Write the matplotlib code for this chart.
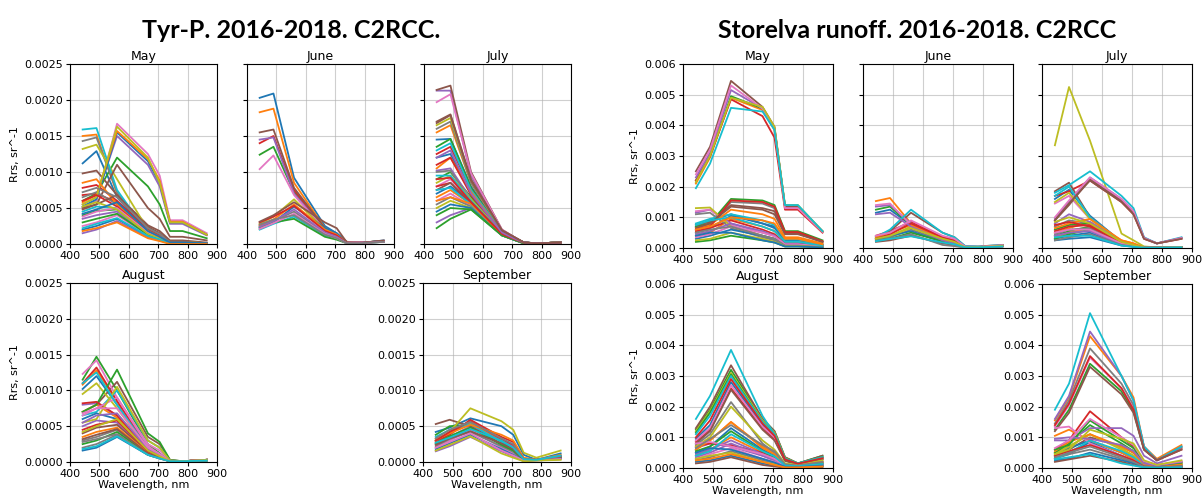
import numpy as np
import matplotlib.pyplot as plt

# Sentinel-2 MSI band centres, nm
wavelength = [443, 490, 560, 665, 705, 740, 783, 865]

# Rrs spectra in units of 1e-4 sr^-1, one row per scene

tyr_may = [
    [11.2, 12.9, 6.5, 1.8, 1.0, 0.3, 0.3, 0.1],
    [15.0, 15.2, 7.0, 1.6, 0.9, 0.3, 0.3, 0.1],
    [6.0, 7.0, 12.0, 8.0, 5.5, 1.8, 1.8, 0.8],
    [6.8, 7.0, 5.8, 2.2, 1.4, 0.3, 0.3, 0.1],
    [5.5, 6.5, 15.0, 11.0, 8.0, 2.8, 2.8, 1.2],
    [9.8, 10.2, 6.8, 2.6, 1.8, 0.5, 0.5, 0.2],
    [5.0, 6.0, 16.7, 12.5, 9.5, 3.3, 3.3, 1.5],
    [14.3, 14.8, 7.2, 1.7, 1.0, 0.3, 0.3, 0.1],
    [13.2, 13.8, 9.0, 2.0, 1.2, 0.3, 0.3, 0.1],
    [15.9, 16.1, 7.5, 1.5, 0.8, 0.2, 0.2, 0.1],
    [5.2, 6.2, 15.5, 11.5, 8.5, 3.0, 3.0, 1.3],
    [5.8, 6.8, 15.7, 11.8, 8.8, 3.1, 3.1, 1.3],
    [4.0, 4.6, 4.8, 1.5, 0.8, 0.1, 0.1, 0.0],
    [7.8, 8.2, 6.0, 2.0, 1.2, 0.2, 0.2, 0.1],
    [3.5, 4.0, 4.5, 1.3, 0.7, 0.1, 0.1, 0.0],
    [5.0, 5.5, 11.0, 5.0, 3.5, 1.0, 1.0, 0.5],
    [2.5, 3.0, 4.0, 1.2, 0.6, 0.1, 0.1, 0.0],
    [6.5, 7.2, 5.5, 1.8, 1.0, 0.2, 0.2, 0.1],
    [5.5, 6.5, 16.3, 12.0, 8.5, 3.0, 3.0, 1.3],
    [4.5, 5.2, 5.0, 1.5, 0.8, 0.1, 0.1, 0.0],
    [2.0, 2.5, 3.5, 1.0, 0.5, 0.1, 0.1, 0.0],
    [8.5, 9.0, 5.5, 1.8, 1.0, 0.2, 0.2, 0.1],
    [3.0, 3.5, 4.2, 1.3, 0.7, 0.1, 0.1, 0.0],
    [6.0, 6.8, 5.2, 1.6, 0.9, 0.1, 0.1, 0.0],
    [1.5, 2.0, 3.2, 0.9, 0.5, 0.1, 0.1, 0.0],
    [4.8, 5.5, 6.8, 2.4, 1.5, 0.3, 0.3, 0.1],
    [3.8, 4.5, 5.0, 1.6, 0.9, 0.1, 0.1, 0.0],
    [7.2, 7.8, 6.5, 2.2, 1.4, 0.2, 0.2, 0.1],
    [5.2, 5.8, 4.8, 1.4, 0.8, 0.1, 0.1, 0.0],
    [2.2, 2.8, 3.6, 1.1, 0.6, 0.1, 0.1, 0.0],
    [4.2, 4.8, 5.8, 1.8, 1.0, 0.2, 0.2, 0.1],
    [1.8, 2.2, 3.0, 0.8, 0.4, 0.0, 0.0, 0.0],
]

tyr_jun = [
    [20.3, 20.9, 9.2, 2.5, 1.5, 0.3, 0.2, 0.4],
    [18.3, 18.8, 8.5, 2.2, 1.3, 0.3, 0.2, 0.4],
    [12.4, 13.5, 7.2, 2.0, 1.2, 0.2, 0.2, 0.4],
    [14.0, 15.0, 7.5, 2.1, 1.3, 0.2, 0.2, 0.4],
    [14.5, 14.8, 7.0, 2.0, 1.2, 0.2, 0.2, 0.3],
    [15.5, 15.9, 7.8, 2.2, 1.3, 0.2, 0.2, 0.4],
    [10.4, 12.3, 6.8, 1.9, 1.1, 0.2, 0.2, 0.3],
    [2.5, 3.2, 4.5, 1.5, 0.9, 0.1, 0.1, 0.4],
    [2.8, 3.8, 6.2, 2.0, 1.2, 0.1, 0.1, 0.4],
    [2.0, 2.8, 3.8, 1.2, 0.7, 0.1, 0.1, 0.3],
    [2.2, 3.0, 5.2, 2.2, 1.5, 0.1, 0.1, 0.5],
    [2.6, 3.4, 5.5, 2.0, 1.3, 0.1, 0.1, 0.4],
    [2.3, 3.0, 3.5, 1.0, 0.6, 0.1, 0.1, 0.3],
    [3.0, 3.8, 5.3, 1.8, 1.2, 0.1, 0.1, 0.4],
    [2.4, 3.2, 4.8, 1.6, 1.0, 0.1, 0.1, 0.4],
    [3.1, 4.0, 5.8, 3.0, 2.2, 0.2, 0.1, 0.5],
    [2.1, 2.9, 4.2, 1.4, 0.8, 0.1, 0.1, 0.3],
    [2.7, 3.4, 4.0, 1.3, 0.8, 0.1, 0.1, 0.3],
]

tyr_jul = [
    [14.5, 14.6, 8.0, 1.8, 0.9, 0.2, 0.1, 0.2],
    [15.5, 16.5, 8.5, 1.8, 0.9, 0.2, 0.1, 0.2],
    [13.5, 14.6, 7.8, 1.7, 0.9, 0.2, 0.1, 0.2],
    [12.5, 13.5, 7.5, 1.7, 0.9, 0.2, 0.1, 0.2],
    [21.3, 21.3, 9.5, 1.9, 1.0, 0.2, 0.1, 0.2],
    [21.4, 22.0, 10.0, 2.0, 1.0, 0.2, 0.1, 0.2],
    [19.7, 20.8, 9.8, 2.0, 1.0, 0.2, 0.1, 0.2],
    [16.0, 17.0, 8.5, 1.8, 0.9, 0.2, 0.1, 0.2],
    [16.5, 17.5, 8.8, 1.8, 0.9, 0.2, 0.1, 0.2],
    [13.0, 14.0, 7.5, 1.7, 0.9, 0.2, 0.1, 0.2],
    [12.0, 12.5, 7.0, 1.6, 0.8, 0.2, 0.1, 0.2],
    [10.5, 12.0, 7.2, 1.6, 0.8, 0.2, 0.1, 0.2],
    [9.0, 10.0, 6.5, 1.5, 0.8, 0.2, 0.1, 0.2],
    [11.0, 12.0, 6.8, 1.6, 0.8, 0.2, 0.1, 0.2],
    [10.2, 10.5, 6.2, 1.5, 0.8, 0.2, 0.1, 0.2],
    [16.8, 17.9, 8.8, 1.9, 1.0, 0.2, 0.1, 0.2],
    [8.0, 9.0, 6.0, 1.4, 0.7, 0.2, 0.1, 0.2],
    [10.0, 10.2, 6.0, 1.4, 0.7, 0.2, 0.1, 0.2],
    [8.5, 9.5, 6.2, 1.5, 0.8, 0.2, 0.1, 0.2],
    [9.5, 9.5, 6.0, 1.4, 0.7, 0.2, 0.1, 0.2],
    [7.0, 8.0, 5.8, 1.4, 0.7, 0.2, 0.1, 0.2],
    [6.5, 7.5, 5.5, 1.3, 0.7, 0.1, 0.1, 0.2],
    [2.2, 3.5, 4.8, 1.2, 0.6, 0.1, 0.1, 0.2],
    [8.0, 8.5, 5.5, 1.3, 0.7, 0.1, 0.1, 0.2],
    [3.0, 4.0, 5.0, 1.2, 0.6, 0.1, 0.1, 0.2],
    [7.5, 8.5, 5.8, 1.4, 0.7, 0.2, 0.1, 0.2],
    [6.0, 7.0, 5.3, 1.3, 0.6, 0.1, 0.1, 0.2],
    [5.5, 6.5, 5.2, 1.3, 0.6, 0.1, 0.1, 0.2],
    [5.0, 6.0, 5.0, 1.2, 0.6, 0.1, 0.1, 0.2],
    [7.5, 7.8, 5.5, 1.3, 0.6, 0.1, 0.1, 0.2],
    [4.5, 5.5, 5.0, 1.2, 0.6, 0.1, 0.1, 0.2],
    [6.0, 6.5, 5.6, 1.3, 0.7, 0.1, 0.1, 0.2],
    [4.0, 5.0, 4.8, 1.2, 0.6, 0.1, 0.1, 0.2],
    [9.0, 9.2, 5.8, 1.4, 0.7, 0.2, 0.1, 0.2],
    [12.0, 13.0, 7.0, 1.6, 0.8, 0.2, 0.1, 0.2],
    [17.0, 18.0, 9.0, 1.9, 1.0, 0.2, 0.1, 0.2],
]

tyr_aug = [
    [10.2, 12.0, 8.0, 2.0, 1.0, 0.1, 0.1, 0.3],
    [10.8, 12.8, 8.5, 2.0, 1.0, 0.1, 0.1, 0.3],
    [11.5, 14.7, 10.0, 2.5, 1.2, 0.1, 0.1, 0.3],
    [11.0, 13.2, 8.5, 2.0, 1.0, 0.1, 0.1, 0.3],
    [8.0, 8.2, 6.5, 1.8, 0.9, 0.1, 0.1, 0.3],
    [7.0, 8.0, 11.2, 3.5, 2.5, 0.3, 0.1, 0.3],
    [12.3, 14.2, 9.0, 2.2, 1.1, 0.1, 0.1, 0.3],
    [3.0, 3.5, 4.5, 1.2, 0.6, 0.1, 0.1, 0.3],
    [9.5, 11.0, 7.5, 1.8, 0.9, 0.1, 0.1, 0.3],
    [6.5, 7.0, 10.0, 3.0, 2.0, 0.2, 0.1, 0.3],
    [6.0, 6.8, 6.0, 1.6, 0.8, 0.1, 0.1, 0.3],
    [7.0, 8.0, 6.2, 1.7, 0.9, 0.1, 0.1, 0.3],
    [7.0, 8.0, 12.9, 4.0, 2.8, 0.3, 0.1, 0.3],
    [8.2, 8.4, 6.5, 1.8, 0.9, 0.1, 0.1, 0.3],
    [5.0, 5.8, 5.5, 1.5, 0.8, 0.1, 0.1, 0.3],
    [4.0, 4.8, 5.2, 1.4, 0.7, 0.1, 0.1, 0.3],
    [6.5, 7.5, 9.0, 2.5, 1.6, 0.2, 0.1, 0.3],
    [2.0, 2.5, 3.8, 1.0, 0.5, 0.1, 0.1, 0.2],
    [5.5, 6.0, 10.5, 3.0, 2.0, 0.2, 0.1, 0.3],
    [11.0, 12.5, 8.0, 1.9, 1.0, 0.1, 0.1, 0.3],
    [1.6, 2.0, 3.5, 1.0, 0.5, 0.1, 0.1, 0.2],
    [3.5, 4.2, 4.8, 1.3, 0.7, 0.1, 0.1, 0.3],
    [2.5, 3.0, 4.2, 1.1, 0.6, 0.1, 0.1, 0.2],
    [4.5, 5.2, 5.8, 1.5, 0.8, 0.1, 0.1, 0.3],
    [5.5, 6.5, 6.8, 1.8, 1.0, 0.1, 0.1, 0.3],
    [3.2, 3.8, 4.6, 1.2, 0.6, 0.1, 0.1, 0.3],
    [6.8, 7.5, 7.5, 2.0, 1.1, 0.1, 0.1, 0.3],
    [2.8, 3.2, 3.9, 1.0, 0.5, 0.1, 0.1, 0.2],
    [4.2, 5.0, 6.0, 1.6, 0.8, 0.1, 0.1, 0.3],
    [1.8, 2.2, 3.6, 1.0, 0.5, 0.1, 0.1, 0.2],
]

tyr_sep = [
    [4.2, 4.8, 6.1, 5.0, 3.8, 1.0, 0.3, 1.2],
    [3.0, 4.0, 5.5, 3.0, 2.0, 0.4, 0.3, 0.8],
    [3.8, 5.0, 5.2, 2.5, 1.5, 0.3, 0.3, 0.6],
    [2.8, 3.8, 5.9, 3.5, 2.8, 0.5, 0.3, 0.8],
    [2.5, 3.5, 5.0, 3.0, 2.2, 0.5, 0.3, 0.9],
    [5.3, 5.9, 5.0, 2.5, 1.5, 0.3, 0.3, 0.6],
    [2.0, 3.0, 4.5, 2.0, 1.2, 0.2, 0.3, 0.6],
    [2.2, 3.2, 4.2, 2.2, 1.4, 0.2, 0.3, 0.5],
    [3.0, 4.2, 7.5, 5.7, 4.5, 1.3, 0.6, 1.6],
    [3.5, 4.5, 5.3, 2.8, 1.8, 0.3, 0.3, 0.7],
    [1.8, 2.6, 3.8, 1.8, 1.0, 0.2, 0.3, 0.5],
    [3.2, 4.0, 5.2, 3.8, 3.0, 0.6, 0.3, 1.0],
    [2.6, 3.6, 4.8, 2.4, 1.6, 0.3, 0.3, 0.6],
    [3.0, 4.2, 5.7, 3.2, 2.4, 0.4, 0.3, 0.8],
    [1.5, 2.2, 3.5, 1.5, 0.8, 0.1, 0.2, 0.4],
    [2.4, 3.3, 4.3, 2.6, 1.8, 0.3, 0.3, 0.7],
    [2.0, 2.8, 4.0, 1.6, 0.9, 0.2, 0.3, 0.4],
    [3.3, 4.5, 5.6, 3.3, 2.5, 0.4, 0.3, 0.8],
    [1.6, 2.4, 3.6, 1.2, 0.6, 0.1, 0.2, 0.3],
    [2.7, 3.4, 4.6, 3.0, 2.0, 0.4, 0.3, 0.9],
]

sto_may = [
    [5.0, 6.5, 10.5, 8.0, 6.5, 2.5, 2.5, 1.0],
    [21.0, 29.5, 49.0, 45.0, 38.5, 13.5, 13.5, 5.3],
    [22.0, 30.0, 49.5, 45.5, 39.0, 13.5, 13.5, 5.3],
    [22.0, 30.0, 48.5, 43.0, 36.0, 12.5, 12.5, 5.0],
    [23.0, 31.0, 51.5, 45.5, 39.0, 13.5, 13.5, 5.4],
    [25.0, 33.0, 54.5, 46.0, 39.5, 13.5, 13.5, 5.5],
    [24.0, 32.0, 53.0, 45.5, 39.0, 13.0, 13.0, 5.2],
    [6.0, 7.5, 15.0, 14.5, 13.0, 5.0, 5.0, 2.0],
    [21.5, 30.0, 49.0, 46.0, 39.5, 14.0, 14.0, 5.5],
    [19.5, 27.5, 45.7, 44.5, 38.5, 14.0, 14.0, 5.5],
    [7.0, 9.0, 11.0, 8.0, 7.0, 2.5, 2.5, 1.0],
    [4.0, 5.0, 9.5, 7.0, 5.5, 2.0, 2.0, 0.8],
    [7.0, 8.0, 16.0, 15.5, 14.0, 5.5, 5.5, 2.5],
    [5.5, 6.5, 9.0, 6.0, 4.5, 1.5, 1.5, 0.6],
    [11.5, 12.5, 8.0, 5.0, 4.0, 1.2, 1.2, 0.5],
    [7.5, 8.5, 14.0, 13.0, 12.0, 4.8, 4.8, 2.0],
    [12.0, 12.5, 7.5, 4.0, 3.0, 1.0, 1.0, 0.4],
    [11.0, 11.5, 6.5, 3.5, 2.5, 0.8, 0.8, 0.3],
    [13.0, 13.2, 7.0, 4.0, 3.0, 1.0, 1.0, 0.5],
    [8.0, 9.5, 11.0, 9.0, 7.5, 2.8, 2.8, 1.2],
    [3.0, 4.0, 6.0, 4.0, 3.0, 1.0, 1.0, 0.4],
    [6.5, 7.5, 12.5, 11.0, 9.5, 3.5, 3.5, 1.5],
    [2.0, 2.5, 4.0, 2.5, 1.8, 0.5, 0.5, 0.3],
    [6.0, 7.0, 15.5, 15.0, 13.5, 5.2, 5.2, 2.2],
    [4.5, 5.5, 8.0, 5.5, 4.0, 1.2, 1.2, 0.5],
    [6.5, 8.0, 13.5, 12.5, 11.0, 4.5, 4.5, 2.0],
    [3.5, 4.5, 7.0, 5.0, 3.8, 1.2, 1.2, 0.5],
    [5.0, 6.0, 7.0, 4.0, 3.0, 0.8, 0.8, 0.3],
    [2.5, 3.0, 5.0, 3.0, 2.0, 0.6, 0.6, 0.3],
    [7.5, 9.0, 10.0, 7.0, 5.5, 2.0, 2.0, 0.8],
    [4.0, 5.0, 5.0, 2.5, 1.8, 0.5, 0.5, 0.2],
    [6.0, 7.0, 10.0, 9.0, 8.0, 3.0, 3.0, 1.2],
]

sto_jun = [
    [11.5, 12.5, 7.5, 3.0, 2.0, 0.3, 0.3, 0.8],
    [15.3, 16.3, 8.0, 3.0, 2.0, 0.3, 0.3, 0.8],
    [12.5, 13.5, 7.5, 3.0, 2.0, 0.3, 0.3, 0.8],
    [4.0, 5.5, 8.5, 3.5, 2.5, 0.4, 0.3, 0.8],
    [13.5, 14.0, 8.0, 3.0, 2.0, 0.3, 0.3, 0.8],
    [3.5, 5.5, 11.5, 5.0, 3.5, 0.6, 0.5, 1.0],
    [14.0, 14.5, 7.5, 3.0, 2.0, 0.3, 0.3, 0.8],
    [2.5, 3.5, 6.0, 2.5, 1.8, 0.3, 0.3, 0.7],
    [3.0, 4.0, 7.0, 3.0, 2.2, 0.4, 0.3, 0.8],
    [3.5, 6.0, 12.5, 5.0, 3.5, 0.7, 0.5, 1.0],
    [3.0, 4.0, 5.5, 2.0, 1.2, 0.2, 0.2, 0.6],
    [3.5, 5.0, 7.5, 3.0, 2.0, 0.3, 0.3, 0.8],
    [2.5, 3.0, 5.0, 2.2, 1.5, 0.3, 0.3, 0.7],
    [3.0, 4.5, 8.0, 3.5, 2.5, 0.4, 0.3, 0.8],
    [11.0, 11.5, 7.0, 2.5, 1.5, 0.3, 0.3, 0.7],
    [2.0, 2.5, 4.0, 1.5, 1.0, 0.2, 0.2, 0.5],
    [4.0, 5.0, 9.0, 4.0, 3.0, 0.5, 0.4, 0.9],
    [2.5, 3.0, 4.5, 1.0, 0.6, 0.1, 0.1, 0.4],
    [3.0, 4.0, 6.5, 3.0, 2.0, 0.3, 0.3, 0.7],
    [2.2, 3.0, 3.8, 1.8, 1.2, 0.2, 0.2, 0.5],
]

sto_jul = [
    [16.0, 19.0, 10.5, 2.0, 1.0, 0.1, 0.1, 0.2],
    [5.0, 6.5, 8.5, 2.5, 1.5, 0.1, 0.1, 0.2],
    [4.0, 5.5, 7.0, 1.5, 0.8, 0.1, 0.1, 0.2],
    [17.0, 18.5, 22.0, 15.0, 11.0, 3.0, 1.5, 3.0],
    [9.5, 15.0, 23.0, 16.0, 12.0, 3.3, 1.5, 3.3],
    [18.5, 21.3, 10.0, 2.0, 1.0, 0.1, 0.1, 0.2],
    [14.5, 17.0, 9.5, 2.0, 1.0, 0.1, 0.1, 0.2],
    [7.0, 9.0, 8.0, 2.0, 1.0, 0.1, 0.1, 0.2],
    [33.5, 52.5, 35.0, 4.7, 2.5, 0.5, 0.2, 0.2],
    [18.0, 20.5, 25.0, 17.0, 13.0, 3.5, 1.5, 3.5],
    [3.0, 4.0, 5.0, 1.0, 0.5, 0.1, 0.1, 0.2],
    [3.5, 5.0, 6.5, 1.5, 0.8, 0.1, 0.1, 0.2],
    [6.0, 7.5, 8.0, 2.0, 1.0, 0.1, 0.1, 0.2],
    [5.5, 7.0, 7.5, 1.8, 0.9, 0.1, 0.1, 0.2],
    [8.0, 11.0, 8.5, 2.0, 1.0, 0.1, 0.1, 0.2],
    [9.0, 14.0, 22.5, 15.5, 11.5, 3.2, 1.5, 3.2],
    [10.0, 15.5, 23.0, 16.0, 12.0, 3.3, 1.5, 3.3],
    [4.5, 6.0, 6.5, 1.5, 0.8, 0.1, 0.1, 0.2],
    [15.0, 18.0, 9.5, 2.0, 1.0, 0.1, 0.1, 0.2],
    [17.0, 20.0, 10.0, 2.0, 1.0, 0.1, 0.1, 0.2],
    [2.5, 3.0, 3.5, 0.8, 0.4, 0.1, 0.1, 0.2],
    [6.5, 8.0, 9.5, 2.5, 1.5, 0.1, 0.1, 0.2],
    [3.0, 4.5, 6.0, 1.2, 0.6, 0.1, 0.1, 0.2],
    [7.5, 8.5, 7.0, 1.8, 0.9, 0.1, 0.1, 0.2],
    [4.0, 5.0, 5.5, 1.2, 0.6, 0.1, 0.1, 0.2],
    [9.0, 14.5, 22.0, 15.0, 11.0, 3.0, 1.5, 3.0],
    [5.0, 6.0, 6.0, 1.5, 0.8, 0.1, 0.1, 0.2],
    [2.5, 3.5, 4.5, 1.0, 0.5, 0.1, 0.1, 0.2],
    [8.5, 10.0, 8.0, 2.0, 1.0, 0.1, 0.1, 0.2],
    [3.5, 4.0, 4.0, 0.8, 0.4, 0.1, 0.1, 0.2],
]

sto_aug = [
    [9.5, 14.0, 28.0, 14.0, 10.0, 2.5, 1.3, 3.0],
    [6.0, 9.0, 15.0, 7.0, 5.0, 1.0, 0.8, 2.0],
    [12.5, 19.0, 32.0, 16.0, 12.0, 3.5, 1.5, 4.0],
    [8.5, 12.5, 26.0, 13.0, 9.5, 2.5, 1.3, 3.0],
    [6.5, 8.0, 7.0, 4.0, 2.5, 0.5, 0.4, 1.0],
    [13.0, 20.0, 33.5, 16.0, 12.0, 3.5, 1.5, 4.0],
    [9.0, 13.0, 27.0, 13.5, 10.0, 2.5, 1.3, 3.0],
    [7.5, 11.0, 21.5, 8.0, 5.0, 1.2, 0.8, 2.0],
    [12.0, 18.5, 31.0, 15.5, 11.5, 3.2, 1.5, 3.5],
    [16.0, 23.5, 38.5, 17.0, 11.0, 3.0, 1.5, 3.5],
    [5.0, 7.0, 13.0, 6.0, 4.0, 0.8, 0.6, 1.5],
    [4.0, 6.0, 10.0, 5.0, 3.5, 0.7, 0.5, 1.2],
    [11.5, 18.0, 30.5, 15.0, 11.0, 3.0, 1.5, 3.5],
    [7.0, 8.0, 7.5, 5.0, 3.0, 0.6, 0.4, 1.0],
    [3.5, 5.0, 8.0, 4.0, 2.5, 0.5, 0.4, 1.0],
    [8.0, 12.0, 25.5, 12.5, 9.0, 2.3, 1.2, 2.8],
    [3.0, 4.5, 6.5, 3.0, 2.0, 0.4, 0.3, 0.8],
    [2.5, 3.5, 5.5, 2.5, 1.5, 0.3, 0.3, 0.6],
    [7.0, 10.0, 20.0, 9.0, 6.0, 1.5, 1.0, 2.5],
    [11.0, 17.0, 30.0, 15.0, 11.0, 3.0, 1.5, 3.5],
    [2.0, 2.5, 4.0, 1.5, 0.8, 0.2, 0.2, 0.5],
    [6.0, 9.0, 15.0, 6.5, 4.5, 1.0, 0.8, 2.0],
    [5.5, 7.0, 12.0, 5.5, 3.5, 0.8, 0.6, 1.5],
    [10.0, 15.5, 29.0, 14.5, 10.5, 2.8, 1.4, 3.2],
    [4.5, 6.0, 9.0, 4.5, 3.0, 0.6, 0.5, 1.2],
    [1.5, 2.0, 3.5, 1.0, 0.5, 0.1, 0.1, 0.3],
    [8.0, 8.5, 7.0, 4.5, 3.0, 0.6, 0.4, 1.0],
    [6.5, 9.5, 14.0, 7.5, 5.5, 1.2, 0.8, 2.0],
    [3.0, 4.0, 5.0, 2.0, 1.2, 0.3, 0.2, 0.6],
    [4.0, 5.5, 11.0, 5.5, 3.8, 0.8, 0.6, 1.3],
    [5.0, 6.5, 6.0, 3.0, 1.8, 0.4, 0.3, 0.8],
    [2.5, 3.0, 4.5, 2.0, 1.0, 0.2, 0.2, 0.5],
]

sto_sep = [
    [3.5, 4.5, 8.5, 4.0, 2.5, 0.5, 0.3, 0.5],
    [15.5, 23.0, 43.0, 30.0, 23.0, 7.0, 3.0, 7.5],
    [12.5, 19.0, 34.0, 25.0, 18.5, 6.0, 2.5, 6.5],
    [6.0, 9.0, 18.5, 10.0, 7.0, 2.0, 1.0, 2.0],
    [16.0, 23.5, 44.5, 30.0, 22.0, 7.0, 2.5, 7.0],
    [4.0, 6.0, 10.0, 7.0, 5.0, 1.2, 0.6, 1.2],
    [13.5, 20.5, 36.0, 26.0, 19.5, 6.2, 2.5, 6.5],
    [14.5, 22.0, 39.0, 27.5, 20.5, 6.5, 2.5, 6.8],
    [5.0, 7.0, 11.0, 6.0, 4.0, 1.0, 0.5, 1.0],
    [19.0, 27.5, 50.5, 30.0, 22.0, 7.0, 2.5, 7.0],
    [4.5, 6.5, 9.0, 5.0, 3.0, 0.8, 0.4, 0.8],
    [10.5, 12.5, 9.0, 5.0, 3.0, 0.8, 0.4, 0.8],
    [5.0, 8.0, 14.0, 8.0, 5.5, 1.5, 0.7, 1.5],
    [14.0, 21.0, 36.5, 26.0, 19.0, 6.0, 2.5, 6.0],
    [9.0, 9.0, 13.0, 13.0, 10.5, 4.0, 1.5, 4.0],
    [12.0, 18.0, 33.0, 24.0, 18.0, 6.0, 2.5, 6.0],
    [13.0, 13.5, 8.0, 4.0, 2.5, 0.6, 0.3, 0.6],
    [3.0, 4.5, 6.0, 3.0, 1.8, 0.4, 0.2, 0.4],
    [4.5, 7.0, 11.0, 6.5, 4.0, 1.0, 0.5, 1.0],
    [3.0, 5.0, 9.0, 5.5, 3.5, 0.8, 0.4, 0.8],
    [2.5, 3.0, 5.0, 2.5, 1.5, 0.3, 0.2, 0.3],
    [5.5, 8.5, 11.0, 7.0, 5.0, 1.2, 0.6, 1.2],
    [6.0, 7.5, 15.5, 9.0, 6.5, 1.8, 0.8, 1.8],
    [4.0, 5.5, 7.5, 4.0, 2.5, 0.5, 0.3, 0.5],
    [9.5, 10.0, 9.5, 7.5, 5.5, 1.5, 0.8, 2.0],
    [2.0, 2.8, 4.0, 2.0, 1.0, 0.2, 0.1, 0.2],
    [6.5, 9.0, 16.0, 10.0, 7.5, 2.2, 1.0, 2.2],
    [3.5, 5.0, 7.0, 3.5, 2.0, 0.4, 0.3, 0.5],
    [4.5, 6.0, 12.5, 9.5, 8.0, 2.5, 1.0, 2.5],
    [2.8, 3.5, 4.5, 1.5, 0.8, 0.2, 0.1, 0.2],
]

W, H = 1203, 498
fig = plt.figure(figsize=(W / 100, H / 100), dpi=100)


def px_rect(x0, y0, x1, y1):
    # pixel box (top-left origin) -> figure fraction rect
    return [x0 / W, 1 - y1 / H, (x1 - x0) / W, (y1 - y0) / H]


def panel(rect, spectra, title, ymax, yticks, show_y=True, ylabel=False, xlabel=False):
    ax = fig.add_axes(px_rect(*rect))
    for row in spectra:
        ax.plot(wavelength, np.array(row) * 1e-4, lw=1.3)
    ax.set_xlim(400, 900)
    ax.set_ylim(0, ymax)
    ax.set_xticks([400, 500, 600, 700, 800, 900])
    ax.set_yticks(yticks)
    ax.grid(True, color='#b0b0b0', lw=0.8, alpha=0.6)
    ax.tick_params(labelsize=8, length=3, pad=2)
    if not show_y:
        ax.tick_params(labelleft=False)
    ax.set_title(title, fontsize=9, pad=3)
    if ylabel:
        ax.set_ylabel('Rrs, sr^-1', fontsize=8, labelpad=3)
    if xlabel:
        ax.set_xlabel('Wavelength, nm', fontsize=8, labelpad=1)
    return ax


tyr_ticks = [0, 0.0005, 0.0010, 0.0015, 0.0020, 0.0025]
sto_ticks = [0, 0.001, 0.002, 0.003, 0.004, 0.005, 0.006]

# Tyr-P
panel((70, 64, 217, 244), tyr_may, 'May', 0.0025, tyr_ticks, ylabel=True)
panel((247, 64, 394, 244), tyr_jun, 'June', 0.0025, tyr_ticks, show_y=False)
panel((424, 64, 571, 244), tyr_jul, 'July', 0.0025, tyr_ticks, show_y=False)
panel((70, 283, 217, 462), tyr_aug, 'August', 0.0025, tyr_ticks, ylabel=True, xlabel=True)
panel((423, 283, 571, 462), tyr_sep, 'September', 0.0025, tyr_ticks, xlabel=True)

# Storelva runoff
panel((683, 64, 833, 248), sto_may, 'May', 0.006, sto_ticks, ylabel=True)
panel((863, 64, 1013, 248), sto_jun, 'June', 0.006, sto_ticks, show_y=False)
panel((1042, 64, 1192, 248), sto_jul, 'July', 0.006, sto_ticks, show_y=False)
panel((683, 284, 833, 468), sto_aug, 'August', 0.006, sto_ticks, ylabel=True, xlabel=True)
panel((1042, 284, 1192, 468), sto_sep, 'September', 0.006, sto_ticks, xlabel=True)

fig.text(291 / W, 1 - 31 / H, 'Tyr-P. 2016-2018. C2RCC.', ha='center', va='center',
         fontsize=18, fontweight='bold', family='Lato')
fig.text(917 / W, 1 - 31 / H, 'Storelva runoff. 2016-2018. C2RCC', ha='center', va='center',
         fontsize=18, fontweight='bold', family='Lato')

fig.savefig('out.png', dpi=100)
